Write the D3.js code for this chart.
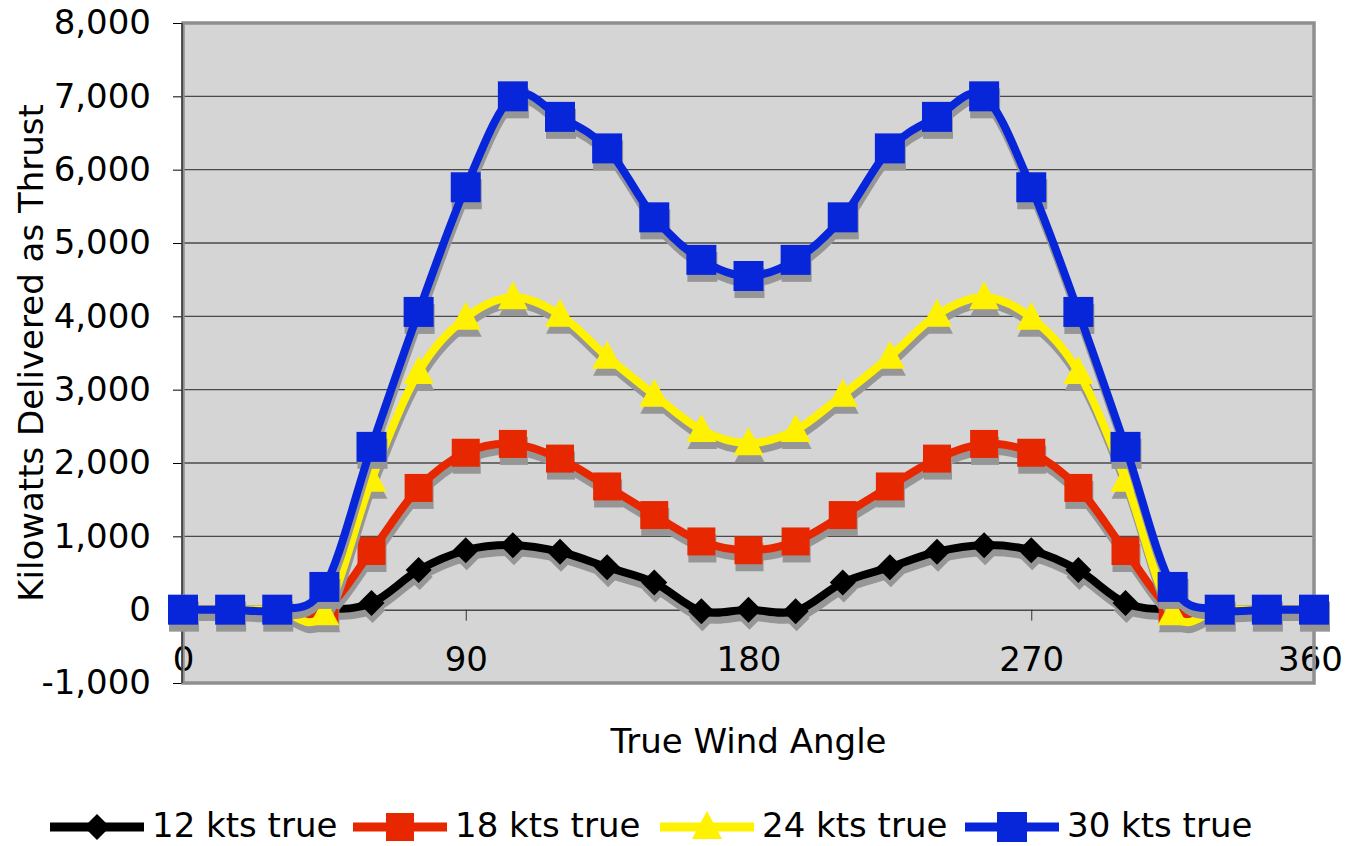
<!DOCTYPE html>
<html>
<head>
<meta charset="utf-8">
<script src="https://cdn.jsdelivr.net/npm/d3@7"></script>
<style>
  body { margin: 0; background: #fff; }
  svg { display: block; font-family: "DejaVu Sans", Verdana, sans-serif; }
</style>
</head>
<body>
<svg id="chart" width="1349" height="846"></svg>
<script>
// chart values
const angles = [0, 15, 30, 45, 60, 75, 90, 105, 120, 135, 150, 165, 180,
                195, 210, 225, 240, 255, 270, 285, 300, 315, 330, 345, 360];
const kts12 = [0, 0, 0, 0, 90, 540, 810, 880, 790, 580, 370, -20, 0,
               -20, 370, 580, 790, 880, 810, 540, 90, 0, 0, 0, 0];
const kts18 = [0, 0, 0, 0, 800, 1660, 2140, 2260, 2060, 1680, 1290, 930, 810,
               930, 1290, 1680, 2060, 2260, 2140, 1660, 800, 0, 0, 0, 0];
const kts24 = [0, 0, 0, -50, 1770, 3240, 3980, 4260, 4020, 3450, 2930, 2450, 2270,
               2450, 2930, 3450, 4020, 4260, 3980, 3240, 1770, -50, 0, 0, 0];
const kts30 = [0, 0, 0, 310, 2220, 4060, 5760, 7000, 6720, 6290, 5350, 4770, 4550,
               4770, 5350, 6290, 6720, 7000, 5760, 4060, 2220, 310, 0, 0, 0];
const seriesNames = ["12 kts true", "18 kts true", "24 kts true", "30 kts true"];
const xTicks = [0, 90, 180, 270, 360];
const yTicks = [-1000, 0, 1000, 2000, 3000, 4000, 5000, 6000, 7000, 8000];

const series = [
    {name: seriesNames[0], values: kts12, color: "#000000", marker: "diamond"},
    {name: seriesNames[1], values: kts18, color: "#e62700", marker: "square-s"},
    {name: seriesNames[2], values: kts24, color: "#fff200", marker: "triangle"},
    {name: seriesNames[3], values: kts30, color: "#0726d9", marker: "square"}
];

const svg = d3.select("#chart");
const plotLeft = 183, plotRight = 1314, plotTop = 23, plotBottom = 683;

const x = d3.scaleLinear().domain([0, 360]).range([plotLeft, plotRight]);
const y = d3.scaleLinear().domain([-1000, 8000]).range([plotBottom, plotTop]);

// hyphen minus like the original, not the unicode minus
const fmt = d3.formatLocale({decimal: ".", thousands: ",", grouping: [3], currency: ["", ""], minus: "-"}).format(",");

// plot background
svg.append("rect")
    .attr("x", plotLeft).attr("y", plotTop)
    .attr("width", plotRight - plotLeft).attr("height", plotBottom - plotTop)
    .attr("fill", "#d5d5d5");

// gridlines
svg.append("g")
    .selectAll("line")
    .data(yTicks.filter(d => d > 0 && d < 8000))
    .join("line")
    .attr("x1", plotLeft).attr("x2", plotRight)
    .attr("y1", d => y(d)).attr("y2", d => y(d))
    .attr("stroke", "#4a4a4a")
    .attr("stroke-width", 1.3);

// y axis
const axisY = d3.axisLeft(y)
    .tickValues(yTicks)
    .tickFormat(fmt)
    .tickSize(10)
    .tickPadding(22);

const gy = svg.append("g")
    .attr("transform", `translate(${plotLeft},0)`)
    .call(axisY);
gy.select(".domain").attr("stroke", "#000");
gy.selectAll(".tick line").attr("stroke", "#000");
gy.selectAll("text")
    .attr("font-size", 34)
    .attr("font-family", "DejaVu Sans, sans-serif")
    .attr("fill", "#000");

// x axis sits on the zero line
const axisX = d3.axisBottom(x)
    .tickValues(xTicks)
    .tickFormat(d3.format("d"))
    .tickSize(11)
    .tickPadding(26);

const gx = svg.append("g")
    .attr("transform", `translate(0,${y(0)})`)
    .call(axisX);
gx.select(".domain").attr("stroke", "#000");
gx.selectAll(".tick line").attr("stroke", "#333");
gx.selectAll("text")
    .attr("font-size", 34)
    .attr("font-family", "DejaVu Sans, sans-serif")
    .attr("fill", "#000");
gx.selectAll(".tick").filter(d => d === 360).select("text").attr("dx", -4);

// plot border
svg.append("rect")
    .attr("x", plotLeft).attr("y", plotTop)
    .attr("width", plotRight - plotLeft).attr("height", plotBottom - plotTop)
    .attr("fill", "none")
    .attr("stroke", "#8f8f8f")
    .attr("stroke-width", 3.5);
svg.append("line")
    .attr("x1", plotLeft - 1).attr("x2", plotLeft - 1)
    .attr("y1", plotTop).attr("y2", plotBottom)
    .attr("stroke", "#000").attr("stroke-width", 1);

// axis titles
svg.append("text")
    .attr("x", (plotLeft + plotRight) / 2)
    .attr("y", 753)
    .attr("text-anchor", "middle")
    .attr("font-size", 34)
    .text("True Wind Angle");

svg.append("text")
    .attr("transform", `translate(43,${(plotTop + plotBottom) / 2}) rotate(-90)`)
    .attr("text-anchor", "middle")
    .attr("font-size", 34)
    .text("Kilowatts Delivered as Thrust");

function markerPath(type) {
    if (type === "diamond") return "M0,-13L13,0L0,13L-13,0Z";
    if (type === "square") return "M-15,-15H15V15H-15Z";
    if (type === "square-s") return "M-14,-14H14V14H-14Z";
    if (type === "triangle") return "M0,-16L15,12H-15Z";
    return "";
}

const line = d3.line()
    .x((d, i) => x(angles[i]))
    .y(d => y(d))
    .curve(d3.curveCardinal.tension(0));

const shadowDx = 1, shadowDy = 7;

function drawSeries(parent, s, color) {
    parent.append("path")
        .attr("d", line(s.values))
        .attr("fill", "none")
        .attr("stroke", color)
        .attr("stroke-width", 8)
        .attr("stroke-linejoin", "round");
    parent.append("g")
        .selectAll("path")
        .data(s.values)
        .join("path")
        .attr("d", markerPath(s.marker))
        .attr("transform", (d, i) => `translate(${x(angles[i])},${y(d)})`)
        .attr("fill", color);
}

series.forEach(s => {
    const g = svg.append("g");
    drawSeries(g.append("g").attr("transform", `translate(${shadowDx},${shadowDy})`), s, "#969696");
    drawSeries(g.append("g"), s, s.color);
});

// legend
const legendX = [50, 353, 660, 965];
const legend = svg.append("g").attr("transform", "translate(0,827)");
series.forEach((s, i) => {
    const item = legend.append("g").attr("transform", `translate(${legendX[i]},0)`);
    item.append("line")
        .attr("x1", 0).attr("x2", 94)
        .attr("y1", 0).attr("y2", 0)
        .attr("stroke", s.color)
        .attr("stroke-width", 9);
    item.append("path")
        .attr("d", markerPath(s.marker))
        .attr("transform", "translate(47,0)")
        .attr("fill", s.color);
    item.append("text")
        .attr("x", 102)
        .attr("y", 10)
        .attr("font-size", 34)
        .text(s.name);
});
</script>
</body>
</html>
